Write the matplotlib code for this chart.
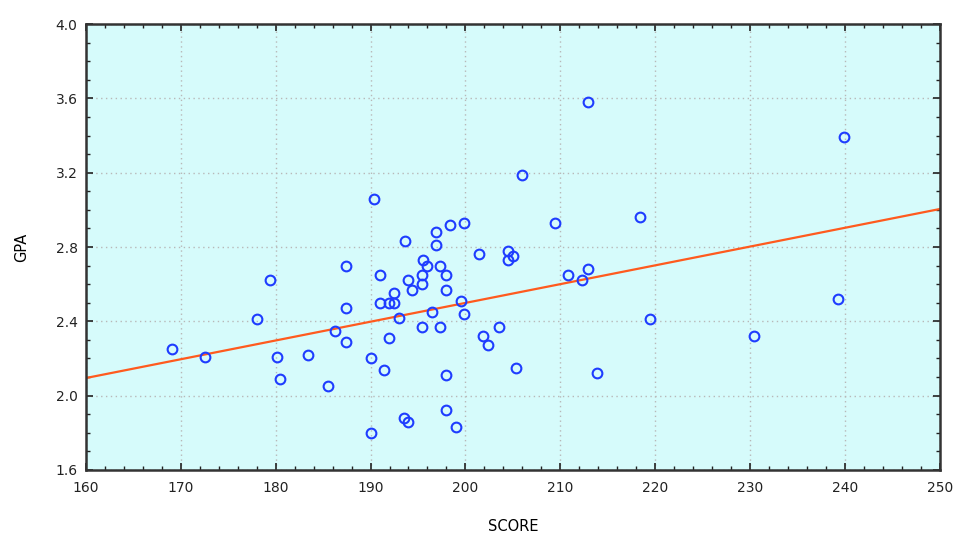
import numpy as np
import matplotlib
matplotlib.use("Agg")
import matplotlib.pyplot as plt
from matplotlib.ticker import MultipleLocator, FormatStrFormatter

score = [169.1, 172.5, 179.4, 178.0, 180.1, 180.5, 183.4, 185.5, 186.3, 187.4,
         187.4, 187.4, 190.0, 190.0, 190.4, 193.6, 196.9, 196.9, 198.4, 199.9,
         206.0, 209.4, 212.9, 218.4, 195.5, 197.3, 201.4, 204.5, 205.0, 204.5,
         195.9, 191.0, 195.4, 198.0, 193.9, 194.4, 195.4, 198.0, 192.5, 191.0,
         191.9, 192.5, 193.0, 196.5, 199.5, 199.9, 195.4, 197.3, 191.9, 191.4,
         198.0, 193.5, 194.0, 198.0, 199.0, 201.9, 202.4, 203.5, 205.3, 210.8,
         212.3, 212.9, 213.9, 219.5, 230.4, 239.3, 239.9]
gpa = [2.25, 2.21, 2.62, 2.41, 2.21, 2.09, 2.22, 2.05, 2.35, 2.70,
       2.47, 2.29, 2.20, 1.80, 3.06, 2.83, 2.88, 2.81, 2.92, 2.93,
       3.19, 2.93, 3.58, 2.96, 2.73, 2.70, 2.76, 2.78, 2.75, 2.73,
       2.70, 2.65, 2.65, 2.65, 2.62, 2.57, 2.60, 2.57, 2.55, 2.50,
       2.50, 2.50, 2.42, 2.45, 2.51, 2.44, 2.37, 2.37, 2.31, 2.14,
       2.11, 1.88, 1.86, 1.92, 1.83, 2.32, 2.27, 2.37, 2.15, 2.65,
       2.62, 2.68, 2.12, 2.41, 2.32, 2.52, 3.39]

# fitted regression line: GPA = intercept + slope * SCORE
fit_intercept = 0.477
fit_slope = 0.01011

x = np.array(score)
y = np.array(gpa)

fig = plt.figure(figsize=(9.55, 5.37), dpi=100)
ax = fig.add_axes([0.090, 0.125, 0.894, 0.830])
ax.set_facecolor("#D6FBFB")

ax.set_xlim(160, 250)
ax.set_ylim(1.6, 4.0)
xs = np.array([160, 250])
ax.plot(xs, fit_intercept + fit_slope * xs, color="#FF5A1E", lw=1.6, zorder=2)
ax.plot(x, y, linestyle="none", marker="o", markersize=7,
        markerfacecolor="none", markeredgecolor="#1E3CFF", markeredgewidth=1.5,
        zorder=3)

ax.xaxis.set_major_locator(MultipleLocator(10))
ax.xaxis.set_minor_locator(MultipleLocator(2))
ax.yaxis.set_major_locator(MultipleLocator(0.4))
ax.yaxis.set_minor_locator(MultipleLocator(0.1))
ax.yaxis.set_major_formatter(FormatStrFormatter("%.1f"))

ax.tick_params(which="both", direction="in", top=True, right=True,
               labelsize=10, colors="#222222")
ax.tick_params(which="major", length=5, width=1.2)
ax.tick_params(which="minor", length=3, width=1.0)
ax.tick_params(axis="x", pad=8)
ax.tick_params(axis="y", pad=6)

ax.grid(True, which="major", color="#B8B8B8", linestyle=(0, (1, 2.5)), lw=1.0)
for s in ax.spines.values():
    s.set_color("#333333")
    s.set_linewidth(1.8)

ax.set_xlabel("SCORE", fontsize=10.5, labelpad=17)
ax.set_ylabel("GPA", fontsize=10.5, labelpad=19)

fig.savefig("out.png", dpi=100, facecolor="white")
